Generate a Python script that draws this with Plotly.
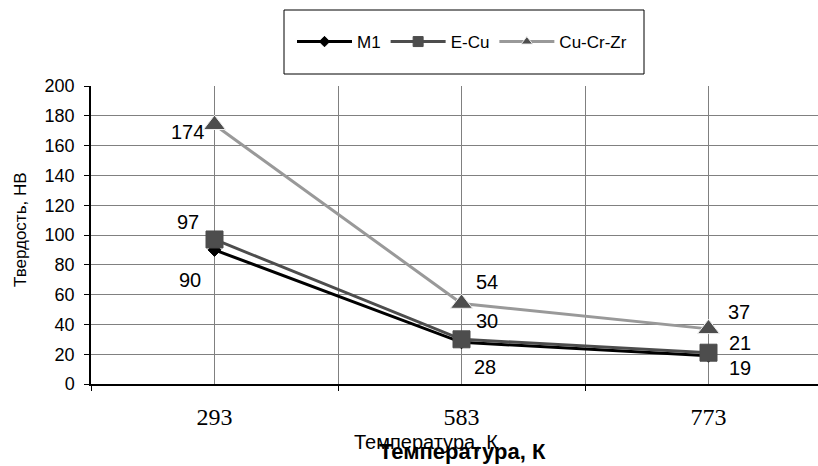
import plotly.graph_objects as go

temps = ["293", "583", "773"]
m1 = [90, 28, 19]
ecu = [97, 30, 21]
cucrzr = [174, 54, 37]
series_names = ["M1", "E-Cu", "Cu-Cr-Zr"]
y_ticks = list(range(0, 201, 20))

xpos = list(range(len(temps)))

styles = {
    "M1": dict(color="#000000", symbol="diamond", size=10, lsize=8, mcolor="#000000", mline="#000000"),
    "E-Cu": dict(color="#4d4d4d", symbol="square", size=17, lsize=10, mcolor="#4d4d4d", mline="#4d4d4d"),
    "Cu-Cr-Zr": dict(color="#999999", symbol="triangle-up", size=19, lsize=10, mcolor="#4d4d4d", mline="#eeeeee"),
}
# label offsets (px) per series / point
offsets = {
    "M1": [(-25, -30), (23, -25), (31, -12)],
    "E-Cu": [(-27, 17), (25, 18), (31, 10)],
    "Cu-Cr-Zr": [(-27, -7), (25, 22), (30, 17)],
}

fig = go.Figure()
data = {"M1": m1, "E-Cu": ecu, "Cu-Cr-Zr": cucrzr}
annotations = []
for name in series_names:
    s = styles[name]
    fig.add_trace(go.Scatter(
        x=xpos, y=data[name], mode="lines+markers", name=name, showlegend=False,
        legendgroup=name,
        line=dict(color=s["color"], width=3),
        marker=dict(symbol=s["symbol"], size=s["size"], color=s["mcolor"],
                    line=dict(color=s["mline"], width=1)),
    ))
    # legend entry with smaller sample marker
    fig.add_trace(go.Scatter(
        x=[None], y=[None], mode="lines+markers", name=name, showlegend=True,
        legendgroup=name,
        line=dict(color=s["color"], width=3),
        marker=dict(symbol=s["symbol"], size=s["lsize"], color=s["mcolor"],
                    line=dict(color=s["mline"], width=1)),
    ))
    for i, v in enumerate(data[name]):
        dx, dy = offsets[name][i]
        annotations.append(dict(x=xpos[i], y=v, xref="x", yref="y", text=str(v),
                                showarrow=False, xshift=dx, yshift=dy,
                                font=dict(family="Liberation Sans, Arial", size=20, color="#000")))

annotations += [
    dict(x=(426 - 91) / 727, y=(384 - 442) / 298, xref="paper", yref="paper", text="Температура, К",
         showarrow=False, font=dict(family="Liberation Sans, Arial", size=20, color="#000"),
         xanchor="center", yanchor="middle"),
    dict(x=(462 - 91) / 727, y=(384 - 452) / 298, xref="paper", yref="paper", text="<b>Температура, К</b>",
         showarrow=False, font=dict(family="Liberation Sans, Arial", size=22, color="#000"),
         xanchor="center", yanchor="middle"),
    dict(x=(20 - 91) / 727, y=(384 - 230) / 298, xref="paper", yref="paper", text="Твердость, НВ",
         showarrow=False, textangle=-90,
         font=dict(family="Liberation Sans, Arial", size=17, color="#000"),
         xanchor="center", yanchor="middle"),
]

fig.update_layout(
    width=818, height=466,
    margin=dict(l=91, r=0, t=86, b=82),
    paper_bgcolor="white", plot_bgcolor="white",
    showlegend=True,
    legend=dict(orientation="h", x=(462 - 91) / 727, xanchor="center", y=(384 - 42) / 298, yanchor="middle",
                font=dict(family="Liberation Sans, Arial", size=17, color="#000"),
                itemwidth=55,
                bgcolor="rgba(0,0,0,0)", borderwidth=0),
    annotations=annotations,
    shapes=[dict(type="rect", xref="paper", yref="paper",
                 x0=(284 - 91) / 727, x1=(644 - 91) / 727,
                 y0=(384 - 74) / 298, y1=(384 - 10) / 298,
                 line=dict(color="#000", width=1), fillcolor="rgba(0,0,0,0)")],
    xaxis=dict(
        range=[-0.5, -0.5 + 727 / 247], tickvals=xpos, ticktext=temps,
        showgrid=True, gridcolor="#808080", gridwidth=1,
        ticks="", showline=True, linecolor="#000", linewidth=1.5,
        tickfont=dict(family="Liberation Serif, Times New Roman", size=24, color="#000"),
        ticklabelstandoff=10, zeroline=False,
        minor=dict(tick0=-0.5, dtick=1, ticks="outside", ticklen=5, tickcolor="#000",
                   showgrid=True, gridcolor="#808080", gridwidth=1),
    ),
    yaxis=dict(
        range=[0, 200], tickvals=y_ticks, showgrid=True, gridcolor="#808080", gridwidth=1,
        ticks="outside", ticklen=5, tickcolor="#000", showline=True, linecolor="#000",
        linewidth=1.5, zeroline=False,
        tickfont=dict(family="Liberation Sans, Arial", size=18, color="#000"),
        ticklabelstandoff=6,
    ),
)

fig.write_html("out.html", config={"displayModeBar": False},
               post_script="document.body.style.margin='0px';")
